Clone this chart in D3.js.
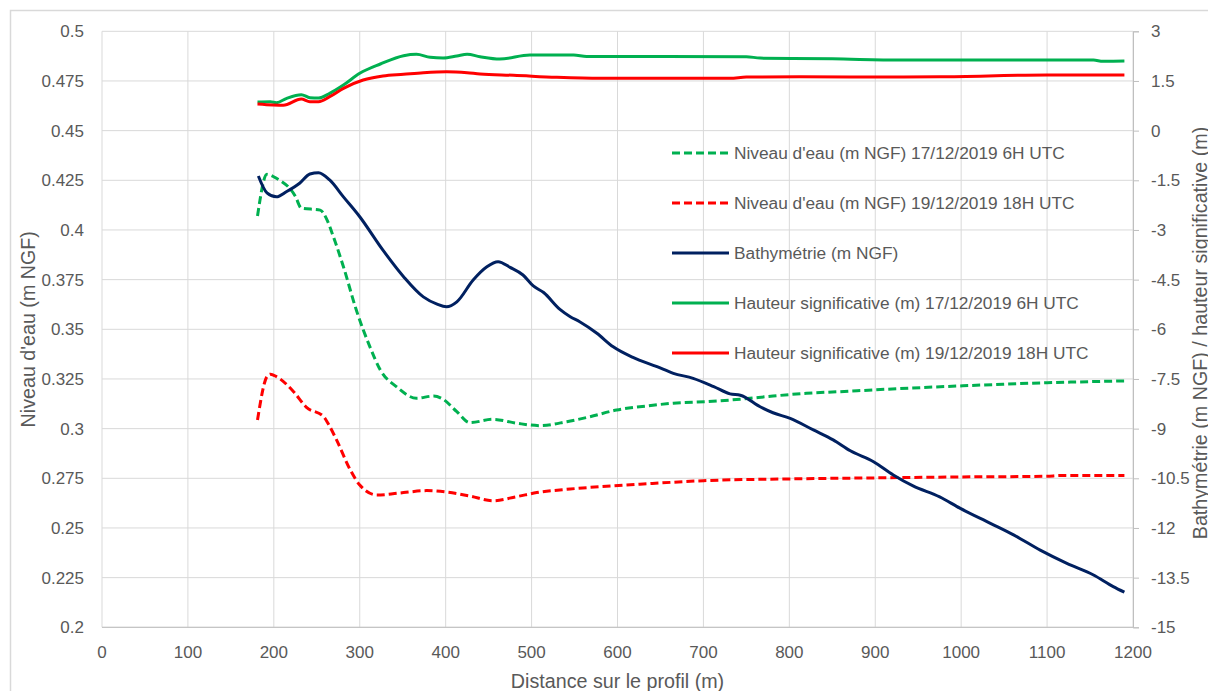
<!DOCTYPE html>
<html>
<head>
<meta charset="utf-8">
<script src="https://cdn.jsdelivr.net/npm/d3@7"></script>
<style>
  body { margin:0; background:#fff; }
  text { font-family:"Liberation Sans", Arial, sans-serif; fill:#595959; }
</style>
</head>
<body>
<div id="chart"></div>
<script>
// distance (m) / niveau d'eau 17/12 6H
var wl17x = [181,192,203,225,232,254,262,269,281,296,312,324,343,366,386,397,413,428,455,483,510,541,568,599,634,665,704,743,781,820,859,898,999,1100,1190];
var wl17y = [0.407,0.428,0.426,0.417,0.411,0.410,0.405,0.397,0.3815,0.3597,0.341,0.3295,0.321,0.3153,0.3164,0.3148,0.3085,0.303,0.3047,0.3027,0.3015,0.3035,0.306,0.3094,0.3114,0.3128,0.3136,0.3148,0.3164,0.3178,0.3186,0.3195,0.3215,0.3231,0.324];

// niveau d'eau 19/12 18H
var wl19x = [181,192,196,203,223,238,258,263,273,289,300,320,351,378,401,428,455,483,506,545,626,700,801,898,999,1100,1115,1190];
var wl19y = [0.3044,0.3262,0.3274,0.3262,0.3186,0.3107,0.306,0.3027,0.2943,0.2792,0.2716,0.2666,0.2678,0.2688,0.2681,0.2661,0.2637,0.2658,0.2678,0.2696,0.272,0.2738,0.2747,0.2752,0.2757,0.276,0.2764,0.2764];

// bathymetrie (axe droit)
var bathx = [182,192,203,215,230,242,252,265,281,300,327,351,374,390,401,413,432,448,461,475,490,502,514,533,545,556,576,595,618,646,665,688,712,731,743,766,781,801,828,851,871,898,921,944,975,999,1034,1061,1092,1123,1154,1177,1190];
var bathy = [-1.37,-1.88,-2.0,-1.84,-1.59,-1.31,-1.27,-1.49,-2.0,-2.6,-3.61,-4.41,-5.02,-5.24,-5.32,-5.17,-4.51,-4.11,-3.96,-4.13,-4.36,-4.69,-4.89,-5.4,-5.62,-5.77,-6.12,-6.53,-6.85,-7.13,-7.33,-7.48,-7.73,-7.95,-7.99,-8.34,-8.52,-8.69,-9.04,-9.34,-9.67,-10.0,-10.4,-10.73,-11.06,-11.41,-11.86,-12.21,-12.67,-13.07,-13.42,-13.77,-13.94];

// hauteur significative 17/12 (axe droit)
var hs17x = [181,196,203,215,232,242,252,265,281,300,324,351,366,382,397,413,425,440,463,498,549,564,750,766,850,929,1154,1165,1190];
var hs17y = [0.865,0.874,0.844,0.976,1.085,0.995,0.985,1.127,1.378,1.732,2.012,2.263,2.305,2.215,2.194,2.254,2.305,2.233,2.163,2.284,2.284,2.24,2.235,2.19,2.17,2.13,2.13,2.094,2.10];

// hauteur significative 19/12 (axe droit)
var hs19x = [181,199,211,232,242,252,265,281,304,327,351,374,401,425,440,479,529,580,731,750,812,929,975,1100,1190];
var hs19y = [0.804,0.774,0.765,0.955,0.874,0.874,1.025,1.278,1.529,1.65,1.701,1.75,1.78,1.75,1.71,1.671,1.611,1.58,1.58,1.62,1.625,1.62,1.625,1.68,1.68];

var xTicks = [0,100,200,300,400,500,600,700,800,900,1000,1100,1200];
var leftTicks = [0.2,0.225,0.25,0.275,0.3,0.325,0.35,0.375,0.4,0.425,0.45,0.475,0.5];
var rightTicks = [-15,-13.5,-12,-10.5,-9,-7.5,-6,-4.5,-3,-1.5,0,1.5,3];

var seriesNames = [
  "Niveau d'eau (m NGF) 17/12/2019 6H UTC",
  "Niveau d'eau (m NGF) 19/12/2019 18H UTC",
  "Bathymétrie (m NGF)",
  "Hauteur significative (m) 17/12/2019 6H UTC",
  "Hauteur significative (m) 19/12/2019 18H UTC"
];

(function(){
  var width = 1208, height = 691;
  var pLeft = 102, pRight = 1133, pTop = 31.3, pBottom = 627.3;

  var svg = d3.select("#chart").append("svg")
    .attr("width", width)
    .attr("height", height);

  // cadre du graphique
  svg.append("rect")
    .attr("x", 10.5).attr("y", 10.5)
    .attr("width", 1220).attr("height", 720)
    .attr("fill", "none")
    .attr("stroke", "#d9d9d9")
    .attr("stroke-width", 1.5);

  var x = d3.scaleLinear().domain([0,1200]).range([pLeft,pRight]);
  var yL = d3.scaleLinear().domain([0.2,0.5]).range([pBottom,pTop]);
  var yR = d3.scaleLinear().domain([-15,3]).range([pBottom,pTop]);

  // grille
  svg.append("g").selectAll("line")
    .data(leftTicks)
    .enter().append("line")
    .attr("x1", pLeft).attr("x2", pRight)
    .attr("y1", function(d){ return yL(d); })
    .attr("y2", function(d){ return yL(d); })
    .attr("stroke", "#d9d9d9");

  svg.append("g").selectAll("line")
    .data(xTicks)
    .enter().append("line")
    .attr("x1", function(d){ return x(d); })
    .attr("x2", function(d){ return x(d); })
    .attr("y1", pTop).attr("y2", pBottom)
    .attr("stroke", "#d9d9d9");

  // axe bas et axe droit
  svg.append("line")
    .attr("x1", pLeft).attr("x2", pRight)
    .attr("y1", pBottom).attr("y2", pBottom)
    .attr("stroke", "#bfbfbf");

  svg.append("g")
    .attr("transform", "translate(" + pRight + ",0)")
    .call(d3.axisRight(yR).tickValues(rightTicks).tickSize(6).tickPadding(12)
      .tickFormat(function(d){ return String(d); }))
    .call(function(g){
      g.select(".domain").attr("stroke", "#bfbfbf");
      g.selectAll(".tick line").attr("stroke", "#bfbfbf");
      g.selectAll("text").attr("font-size", 17).attr("fill", "#595959")
        .attr("font-family", "Liberation Sans, Arial, sans-serif");
    });

  svg.append("g").selectAll("text")
    .data(leftTicks)
    .enter().append("text")
    .attr("x", 84)
    .attr("y", function(d){ return yL(d); })
    .attr("dy", "0.35em")
    .attr("text-anchor", "end")
    .attr("font-size", 17)
    .text(function(d){ return String(+d.toFixed(3)); });

  svg.append("g").selectAll("text")
    .data(xTicks)
    .enter().append("text")
    .attr("x", function(d){ return x(d); })
    .attr("y", 658)
    .attr("text-anchor", "middle")
    .attr("font-size", 17)
    .text(function(d){ return d; });

  // titres des axes
  svg.append("text")
    .attr("x", (pLeft+pRight)/2).attr("y", 688)
    .attr("text-anchor", "middle")
    .attr("font-size", 19.7)
    .text("Distance sur le profil (m)");

  svg.append("text")
    .attr("transform", "translate(35," + (pTop+pBottom)/2 + ") rotate(-90)")
    .attr("text-anchor", "middle")
    .attr("font-size", 19.7)
    .text("Niveau d'eau (m NGF)");

  svg.append("text")
    .attr("transform", "translate(1207,333) rotate(-90)")
    .attr("text-anchor", "middle")
    .attr("font-size", 19.7)
    .text("Bathymétrie (m NGF) / hauteur significative (m)");

  // series
  var series = [
    {xs: wl17x, ys: wl17y, scale: yL, color: "#00b050", dash: "8,4"},
    {xs: wl19x, ys: wl19y, scale: yL, color: "#ff0000", dash: "8,4"},
    {xs: bathx, ys: bathy, scale: yR, color: "#002060", dash: null},
    {xs: hs17x, ys: hs17y, scale: yR, color: "#00b050", dash: null},
    {xs: hs19x, ys: hs19y, scale: yR, color: "#ff0000", dash: null}
  ];

  series.forEach(function(s){
    var pts = s.xs.map(function(v,i){ return [v, s.ys[i]]; });
    var line = d3.line()
      .x(function(d){ return x(d[0]); })
      .y(function(d){ return s.scale(d[1]); })
      .curve(d3.curveMonotoneX);
    svg.append("path")
      .datum(pts)
      .attr("d", line)
      .attr("fill", "none")
      .attr("stroke", s.color)
      .attr("stroke-width", 3)
      .attr("stroke-linejoin", "round")
      .attr("stroke-dasharray", s.dash);
  });

  // legende
  var legend = svg.append("g").selectAll("g")
    .data(series)
    .enter().append("g")
    .attr("transform", function(d,i){ return "translate(672," + (153 + i*50) + ")"; });

  legend.append("line")
    .attr("x1", 0).attr("x2", 57)
    .attr("stroke", function(d){ return d.color; })
    .attr("stroke-width", 3)
    .attr("stroke-dasharray", function(d){ return d.dash; });

  legend.append("text")
    .attr("x", 62).attr("dy", "0.35em")
    .attr("font-size", 17.3)
    .text(function(d,i){ return seriesNames[i]; });
})();
</script>
</body>
</html>
